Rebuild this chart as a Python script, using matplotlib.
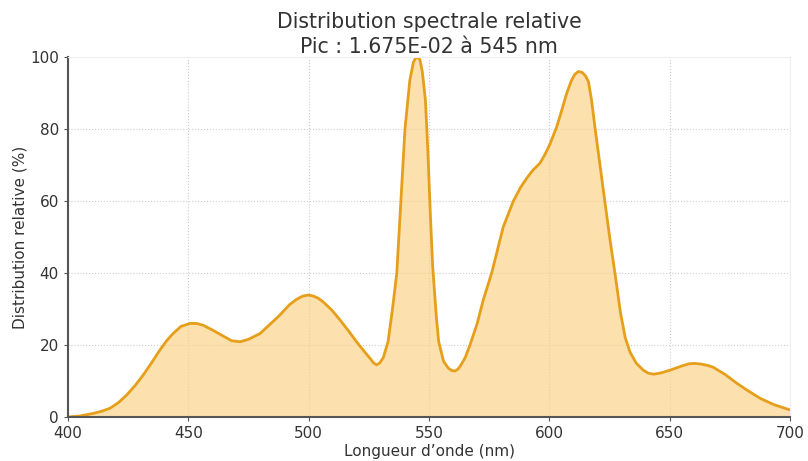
import matplotlib.pyplot as plt
import numpy as np

# (nm, %)
wl = [400, 405, 410.5, 414, 417.4, 421, 424.4, 428, 431.3, 435, 438.2, 441, 443.7,
      447, 450.7, 453.5, 456.2, 460, 464.5, 468, 471.5, 475, 479.8, 484, 488, 492,
      495, 497.5, 499.8, 502, 504, 506, 509.5, 513, 516.5, 519.9, 523, 525.5, 527,
      528.2, 529.5, 531, 533, 535, 536.6, 538.3, 540, 542, 543.5, 544.5, 545.3,
      546.2, 547.2, 548.5, 549.5, 550.5, 551.5, 553, 554, 556, 558, 559.5, 560.8,
      562, 563, 565, 567, 570, 572.5, 576, 580.8, 585, 588, 590.5, 593, 596, 598,
      600, 603, 605, 607.2, 609, 610.5, 612, 613.5, 615, 616.2, 617.5, 619, 621,
      623, 625, 627.2, 629.5, 631.5, 633.5, 636, 639, 641, 643.2, 646, 650, 655,
      658, 660.5, 663, 666, 668.1, 673, 677.8, 682, 687.5, 693, 699.3, 700]
rel = [0, 0.3, 1.0, 1.6, 2.4, 4.0, 6.1, 8.8, 11.7, 15.3, 18.6, 21.2, 23.2,
       25.2, 26.0, 26.0, 25.5, 24.2, 22.5, 21.2, 20.9, 21.6, 23.2, 25.8, 28.3, 31.2,
       32.7, 33.6, 33.9, 33.6, 33.0, 32.0, 29.8, 27.0, 24.0, 20.9, 18.3, 16.3, 15.0,
       14.5, 15.0, 16.5, 21, 31, 40, 60, 80, 93.5, 98.6, 99.8, 100,
       99.3, 96, 88, 74, 57, 42, 28, 21, 15.5, 13.6, 12.9, 12.8,
       13.3, 14.2, 16.5, 20, 26, 32.5, 40, 52.8, 60, 63.8, 66.3, 68.5, 70.5, 72.8,
       75.5, 80.6, 85, 90, 93.3, 95.2, 96, 95.8, 94.8, 93.2, 88, 80, 70,
       60, 50, 40, 29, 22, 18, 15, 13, 12.2, 11.9, 12.2, 13, 14.2,
       14.8, 14.9, 14.7, 14.3, 13.8, 11.8, 9.4, 7.5, 5.2, 3.5, 2.1, 2.0]

line_col = '#E69F1A'
txt_col = '#333333'

fig = plt.figure(figsize=(8.08, 4.61), dpi=100)
ax = fig.add_axes([0.084, 0.0954, 0.894, 0.7806])

ax.plot(wl, rel, color=line_col, lw=2, solid_joinstyle='round')
ax.fill_between(wl, rel, color='#FBD38A', alpha=0.7, lw=0)

ax.set_xlim(400, 700)
ax.set_ylim(0, 100)
ax.set_xticks(np.arange(400, 701, 50))
ax.set_yticks(np.arange(0, 101, 20))
ax.grid(True, ls=':', color='#cccccc', lw=0.8)
ax.set_axisbelow(True)

for s in ['top', 'right']:
    ax.spines[s].set_color('#eeeeee')
for s in ['left', 'bottom']:
    ax.spines[s].set_color('#555555')
    ax.spines[s].set_linewidth(1.5)
ax.tick_params(colors=txt_col, labelsize=11, length=3, color='#555555')

ax.set_xlabel('Longueur d’onde (nm)', fontsize=11, color=txt_col, labelpad=2)
ax.set_ylabel('Distribution relative (%)', fontsize=11, color=txt_col, labelpad=2)
ax.set_title('Distribution spectrale relative\nPic : 1.675E-02 à 545 nm',
             fontsize=14.8, color=txt_col, pad=2, linespacing=1.3)

fig.savefig('out.png', dpi=100)
